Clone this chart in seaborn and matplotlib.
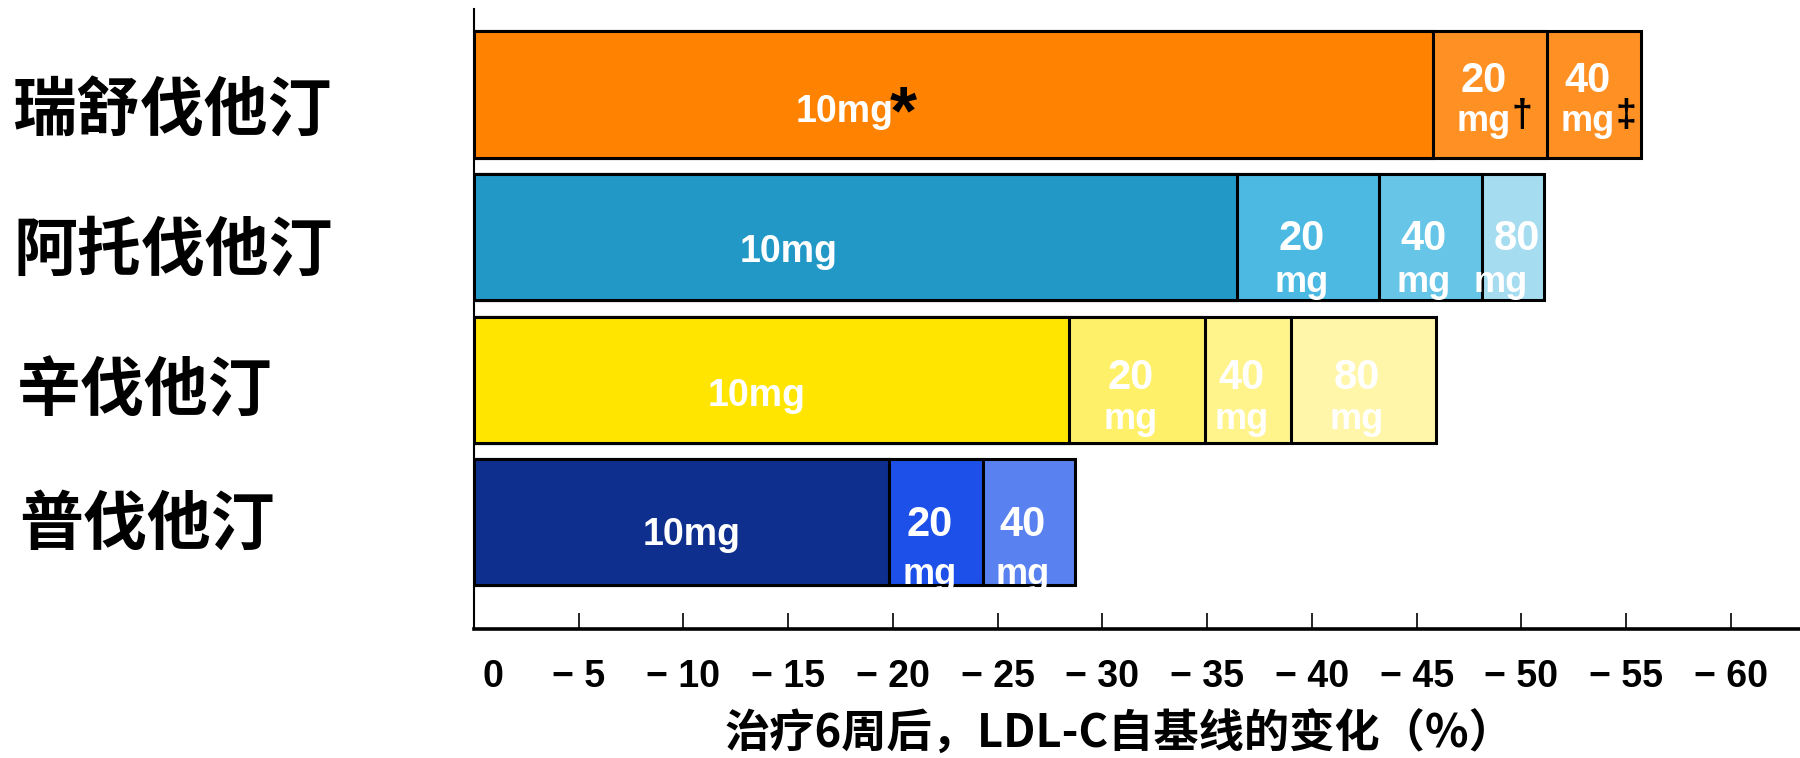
import matplotlib
matplotlib.use("Agg")
import matplotlib.pyplot as plt
from matplotlib import font_manager
from matplotlib.transforms import ScaledTranslation
import seaborn as sns
import pandas as pd

# ---- data: change in LDL-C from baseline after 6 weeks (%) ----
drugs = ["瑞舒伐他汀", "阿托伐他汀", "辛伐他汀", "普伐他汀"]
doses = ["10mg", "20mg", "40mg", "80mg"]
rosuvastatin = [-45.8, -51.2, -55.7]
atorvastatin = [-36.4, -43.2, -48.1, -51.1]
simvastatin = [-28.4, -34.9, -39.0, -45.9]
pravastatin = [-19.8, -24.3, -28.7]
footnotes = ["*", "†", "‡"]          # markers on the rosuvastatin doses
xticks = [0, -5, -10, -15, -20, -25, -30, -35, -40, -45, -50, -55, -60]
xtick_labels = ["0", "− 5", "− 10", "− 15", "− 20", "− 25", "− 30",
                "− 35", "− 40", "− 45", "− 50", "− 55", "− 60"]
xlabel = "治疗6周后，LDL-C自基线的变化（%）"

series = [rosuvastatin, atorvastatin, simvastatin, pravastatin]

# ---- colours, one list per drug (darkest = lowest dose) ----
palettes = [
    ["#FF8200", "#FF9124", "#FF9124"],
    ["#2198C6", "#4BB9E2", "#67C6E8", "#A6DCF0"],
    ["#FFE500", "#FFF06A", "#FFF38C", "#FFF6AA"],
    ["#0E2F8E", "#1C50E8", "#5A81F0"],
]

# ---- fonts ----
sns.set_style("white")
names = {f.name for f in font_manager.fontManager.ttflist}
LATIN = "Liberation Sans" if "Liberation Sans" in names else "DejaVu Sans"
CJK = "Noto Sans CJK SC"
plt.rcParams["font.family"] = [LATIN, CJK, "DejaVu Sans"]
for key in ("text.color", "axes.labelcolor", "xtick.color", "ytick.color",
            "axes.edgecolor"):
    plt.rcParams[key] = "black"
if "Liberation Sans Narrow" in names:
    NARROW = dict(family=["Liberation Sans Narrow"], size=32)
    MG = dict(family=["Liberation Sans Narrow"], size=31)
else:
    NARROW = dict(family=[LATIN], size=27)
    MG = dict(family=[LATIN], size=26)

# ---- long-form table ----
rows = []
for drug, vals in zip(drugs, series):
    for dose, v in zip(doses, vals):
        rows.append(dict(drug=drug, dose=dose, change=v, key=f"{drug} {dose}"))
df = pd.DataFrame(rows)
palette = {f"{drug} {dose}": c
           for drug, cols in zip(drugs, palettes)
           for dose, c in zip(doses, cols)}

fig = plt.figure(figsize=(18, 7.58), dpi=100)
ax = fig.add_axes([474 / 1800, 129 / 758, 1326 / 1800, 620 / 758])

# cumulative bars drawn from the highest dose down, so each lower dose
# sits on top of the next one and the row reads as stacked segments
for dose in reversed(doses):
    sub = df[df["dose"] == dose]
    sns.barplot(data=sub, x="change", y="drug", hue="key", order=drugs,
                hue_order=list(sub["key"]), palette=palette, dodge=False,
                width=0.885, saturation=1, edgecolor="black", linewidth=2.2,
                errorbar=None, legend=False, orient="h", ax=ax)

ax.set_xlim(0, -63.3)
ax.set_ylim(3.75, -0.6)

# ---- in-bar dose labels ----
first_x = [-17.7, -15.0, -13.5, -10.4]          # "10mg" centres
first_dy = [0.196, 0.173, 0.183, 0.159]         # "10mg" baselines
num_dy = [-0.018, 0.089, 0.064, 0.10]           # dose number baselines
mg_dy = [0.255, 0.383, 0.345, 0.433]            # "mg" baselines

for i, (drug, vals) in enumerate(zip(drugs, series)):
    prev = 0.0
    for j, (dose, v) in enumerate(zip(doses, vals)):
        if j == 0:
            ax.text(first_x[i], i + first_dy[i], dose, ha="center",
                    va="baseline", color="white", fontweight="bold",
                    **NARROW)
            if i == 0:
                ax.text(-20.5, i + 0.275, footnotes[0], ha="center",
                        va="baseline", color="black", fontweight="bold",
                        family=[LATIN], size=50)
        else:
            cx = (prev + v) / 2 + 0.3
            nx, mx = cx, cx
            if i == 1 and dose == "80mg":
                nx, mx = cx - 0.5, cx + 0.3
            ax.text(nx, i + num_dy[i], dose[:-2], ha="center", va="baseline",
                    color="white", fontweight="bold", family=[LATIN], size=30)
            mg_t = ax.text(mx, i + mg_dy[i], "mg", ha="center", va="baseline",
                           color="white", fontweight="bold", **MG)
            if i == 0:
                ax.annotate(footnotes[j], xy=(1, 0.64), xycoords=mg_t,
                            xytext=(0.5, 0),
                            textcoords="offset points", ha="left",
                            va="center", color="black", fontweight="bold",
                            family=[LATIN], size=27)
        prev = v

# ---- axes styling ----
for side in ("top", "right"):
    ax.spines[side].set_visible(False)
ax.spines["left"].set_linewidth(1.5)
ax.spines["bottom"].set_linewidth(2.6)

ax.set_xticks(xticks)
ax.set_xticklabels(xtick_labels, fontsize=27, fontweight="bold", family=[LATIN])
ax.tick_params(axis="x", direction="in", length=11.5, width=1.2, pad=21.5,
               color="black", labelcolor="black", bottom=True)
ax.set_yticks(range(len(drugs)))
ax.set_yticklabels(drugs, fontsize=46, fontweight="bold", family=[CJK],
                   ha="left")
ax.tick_params(axis="y", length=0, pad=331.9, left=True, labelcolor="black")
ax.set_ylabel("")
ax.set_xlabel(xlabel, fontsize=32.6, fontweight="bold", family=[CJK],
              color="black")
ax.xaxis.set_label_coords((1119 - 474) / 1326, -0.134)

# fine offsets of individual labels (pixels at 100 dpi)
lbl0 = ax.get_xticklabels()[0]
lbl0.set_transform(lbl0.get_transform()
                   + ScaledTranslation(0.185, 0, fig.dpi_scale_trans))
y_shift = [(0, -0.10), (0, -0.07), (0.04, -0.05), (0.06, 0.04)]
for lbl, (dx, dy) in zip(ax.get_yticklabels(), y_shift):
    lbl.set_transform(lbl.get_transform()
                      + ScaledTranslation(dx, dy, fig.dpi_scale_trans))

fig.savefig("out.png", dpi=100, facecolor="white")
